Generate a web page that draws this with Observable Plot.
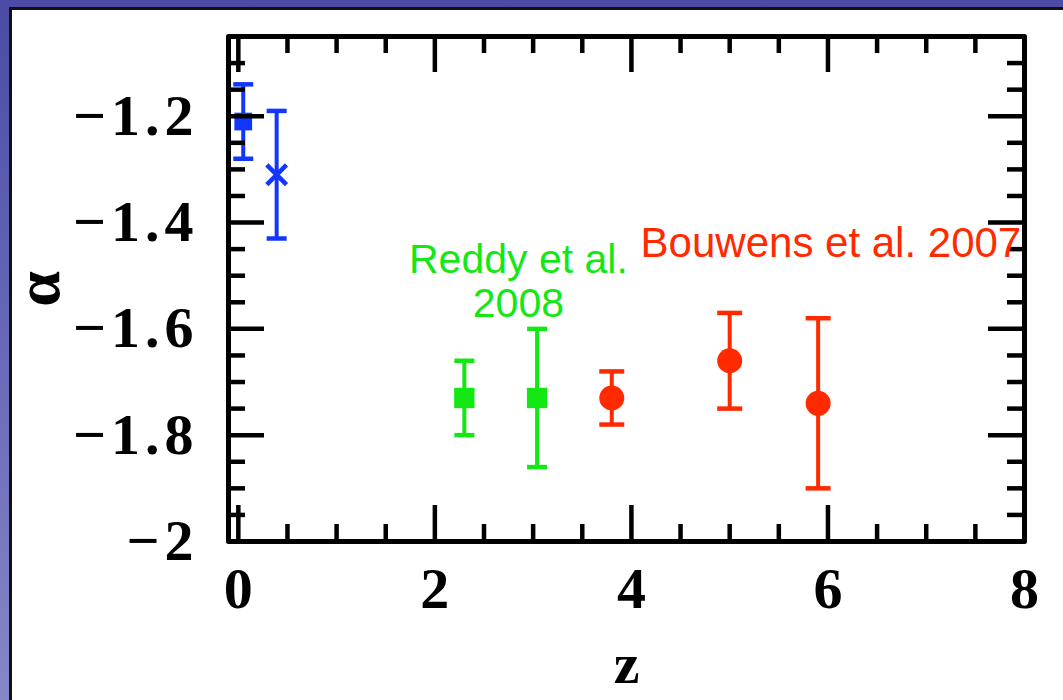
<!DOCTYPE html>
<html>
<head>
<meta charset="utf-8">
<script src="https://cdn.jsdelivr.net/npm/d3@7"></script>
<script src="https://cdn.jsdelivr.net/npm/@observablehq/plot@0.6"></script>
<style>
  body { margin: 0; }
  #page { position: relative; width: 1063px; height: 700px; overflow: hidden;
          background: linear-gradient(#4b4ba6, #8686c9); }
  #paper { position: absolute; left: 9px; top: 7px; right: 0; bottom: 0; background: #fff;
           border-left: 3px solid #111; border-top: 3px solid #111; }
  #chart { position: absolute; left: 0; top: 0; }
  g[aria-label="y-axis tick label"] text { letter-spacing: 5px; }
</style>
</head>
<body>
<div id="page"><div id="paper"></div><div id="chart"></div></div>
<script>
// ---- data ----
const blueSquareZ = [0.05];
const blueSquareAlpha = [-1.21];
const blueSquareLo = [-1.28];
const blueSquareHi = [-1.14];

const blueCrossZ = [0.39];
const blueCrossAlpha = [-1.31];
const blueCrossLo = [-1.43];
const blueCrossHi = [-1.19];

const reddyZ = [2.3, 3.04];
const reddyAlpha = [-1.73, -1.73];
const reddyLo = [-1.80, -1.86];
const reddyHi = [-1.66, -1.60];

const bouwensZ = [3.8, 5.0, 5.9];
const bouwensAlpha = [-1.73, -1.66, -1.74];
const bouwensLo = [-1.78, -1.75, -1.90];
const bouwensHi = [-1.68, -1.57, -1.58];

const xMajorTicks = [0, 2, 4, 6, 8];
const xMinorTicks = [0.5, 1, 1.5, 2.5, 3, 3.5, 4.5, 5, 5.5, 6.5, 7, 7.5];
const yMajorTicks = [-2, -1.8, -1.6, -1.4, -1.2];
const yMinorTicks = [-1.95, -1.9, -1.85, -1.75, -1.7, -1.65, -1.55, -1.5, -1.45, -1.35, -1.3, -1.25, -1.15, -1.1];

const reddyLabel = ["Reddy et al.\n2008"];
const reddyLabelZ = [2.85];
const reddyLabelAlpha = [-1.51];
const bouwensLabel = ["Bouwens et al. 2007"];
const bouwensLabelZ = [6.03];
const bouwensLabelAlpha = [-1.44];

// ---- build tables ----
const table = (zs, as, lo, hi) => zs.map((z, i) => ({z, alpha: as[i], lo: lo[i], hi: hi[i]}));
const blueSquare = table(blueSquareZ, blueSquareAlpha, blueSquareLo, blueSquareHi);
const blueCross = table(blueCrossZ, blueCrossAlpha, blueCrossLo, blueCrossHi);
const reddy = table(reddyZ, reddyAlpha, reddyLo, reddyHi);
const bouwens = table(bouwensZ, bouwensAlpha, bouwensLo, bouwensHi);

const BLUE = "#1236ff", GREEN = "#14e814", RED = "#ff2a00";

const W = 1063, H = 700;
const mL = 228, mT = 36, mR = 39, mB = 159;
const PW = W - mL - mR, PH = H - mT - mB;
const MAJ = 36, MIN = 17, TW = 4.5;

const capSymbol = {
  draw(ctx, size) { const w = Math.sqrt(size / Math.PI); ctx.moveTo(-w, 0); ctx.lineTo(w, 0); }
};

function errorMarks(data, color, capR) {
  return [
    Plot.ruleX(data, {x: "z", y1: "lo", y2: "hi", stroke: color, strokeWidth: 4}),
    Plot.dot(data, {x: "z", y: "lo", symbol: capSymbol, r: capR, stroke: color, strokeWidth: 4.5, fill: "none"}),
    Plot.dot(data, {x: "z", y: "hi", symbol: capSymbol, r: capR, stroke: color, strokeWidth: 4.5, fill: "none"})
  ];
}

const fmt = d3.format("");

const chart = Plot.plot({
  width: W, height: H,
  marginLeft: mL, marginTop: mT, marginRight: mR, marginBottom: mB,
  style: {background: "transparent", color: "black", fontFamily: "'Liberation Serif', serif", fontSize: "58px", fontWeight: "bold"},
  x: {domain: [-0.1, 8], ticks: xMajorTicks, tickSize: 0, tickPadding: 25, tickFormat: fmt, label: null},
  y: {domain: [-2, -1.05], ticks: yMajorTicks, tickSize: 0, tickPadding: 30, tickFormat: fmt, label: null},
  marks: [
    ...errorMarks(blueSquare, BLUE, 10),
    ...errorMarks(blueCross, BLUE, 10),
    ...errorMarks(reddy, GREEN, 10),
    ...errorMarks(bouwens, RED, 12.5),
    Plot.dot(blueSquare, {x: "z", y: "alpha", symbol: "square", r: 10, fill: BLUE}),
    Plot.dot(blueCross, {x: "z", y: "alpha", symbol: "times", r: 9, stroke: BLUE, strokeWidth: 4.5}),
    Plot.dot(reddy, {x: "z", y: "alpha", symbol: "square", r: 11.5, fill: GREEN}),
    Plot.dot(bouwens, {x: "z", y: "alpha", r: 12.5, fill: RED}),
    // ticks (inward, on all four sides)
    Plot.ruleX(xMajorTicks, {x: d => d, insetTop: PH - MAJ, stroke: "black", strokeWidth: TW}),
    Plot.ruleX(xMajorTicks, {x: d => d, insetBottom: PH - MAJ, stroke: "black", strokeWidth: TW}),
    Plot.ruleX(xMinorTicks, {x: d => d, insetTop: PH - MIN, stroke: "black", strokeWidth: TW}),
    Plot.ruleX(xMinorTicks, {x: d => d, insetBottom: PH - MIN, stroke: "black", strokeWidth: TW}),
    Plot.ruleY(yMajorTicks, {y: d => d, insetRight: PW - MAJ, stroke: "black", strokeWidth: TW}),
    Plot.ruleY(yMajorTicks, {y: d => d, insetLeft: PW - MAJ, stroke: "black", strokeWidth: TW}),
    Plot.ruleY(yMinorTicks, {y: d => d, insetRight: PW - MIN, stroke: "black", strokeWidth: TW}),
    Plot.ruleY(yMinorTicks, {y: d => d, insetLeft: PW - MIN, stroke: "black", strokeWidth: TW}),
    Plot.frame({stroke: "black", strokeWidth: 5, strokeLinejoin: "round"}),
    // annotations
    Plot.text(reddyLabel, {x: reddyLabelZ, y: reddyLabelAlpha, text: d => d, fill: GREEN,
      fontFamily: "'Liberation Sans', Arial, sans-serif", fontSize: 41, fontWeight: "normal", lineHeight: 1.07}),
    Plot.text(bouwensLabel, {x: bouwensLabelZ, y: bouwensLabelAlpha, text: d => d, fill: RED,
      fontFamily: "'Liberation Sans', Arial, sans-serif", fontSize: 42, fontWeight: "normal"}),
    // axis titles
    Plot.text(["α"], {text: d => d, frameAnchor: "left", textAnchor: "middle", lineAnchor: "middle",
      dx: -190, rotate: -90, fontSize: 64, fill: "black"}),
    Plot.text(["z"], {text: d => d, frameAnchor: "bottom", textAnchor: "middle", lineAnchor: "middle",
      dy: 123, fontSize: 58, fill: "black"})
  ]
});
document.getElementById("chart").appendChild(chart);
</script>
</body>
</html>
